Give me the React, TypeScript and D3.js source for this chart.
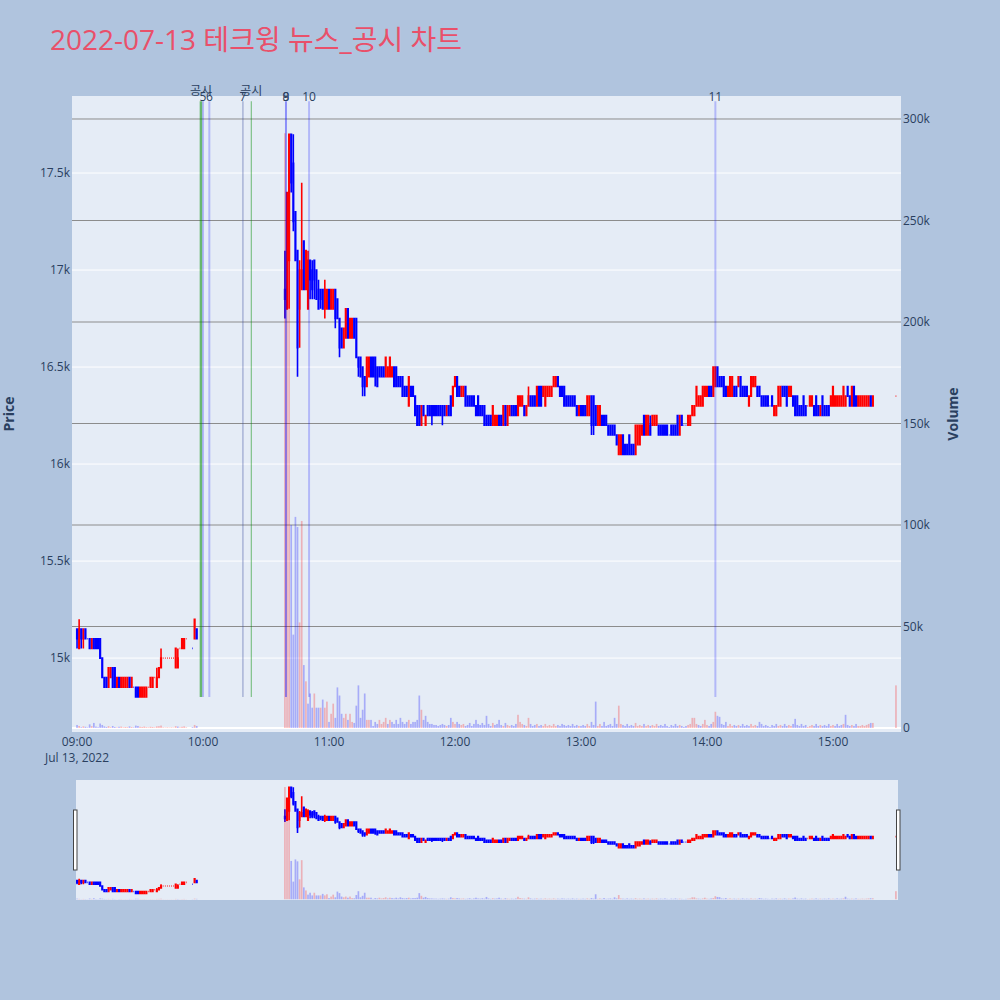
import React from 'react';
import * as d3 from 'd3';

const chartTitle = '2022-07-13 테크윙 뉴스_공시 차트';
const dateLabel = 'Jul 13, 2022';

// [time, open, close, volume, high?, low?]  (high/low default to body extent)
type Row = [string, number, number, number, number?, number?];

const morningCandles: Row[] = [
  ['09:00', 15150, 15100, 1500, 15150, 15050], ['09:01', 15050, 15150, 1000, 15200], ['09:02', 15150, 15100, 400, 15150, 15050],
  ['09:03', 15100, 15150, 800, 15150, 15050], ['09:04', 15150, 15100, 600], ['09:05', 15100, 15100, 300],
  ['09:06', 15100, 15050, 1800], ['09:07', 15050, 15100, 900], ['09:08', 15100, 15050, 2500],
  ['09:09', 15100, 15050, 700], ['09:10', 15100, 15050, 400], ['09:11', 15100, 15000, 2200],
  ['09:12', 15000, 14900, 1500], ['09:13', 14900, 14850, 800], ['09:14', 14900, 14850, 500],
  ['09:15', 14850, 14950, 900], ['09:16', 14900, 14950, 400], ['09:17', 14950, 14850, 1000],
  ['09:18', 14950, 14850, 500], ['09:19', 14850, 14900, 300], ['09:20', 14900, 14850, 600],
  ['09:21', 14850, 14900, 700], ['09:22', 14850, 14900, 300], ['09:23', 14850, 14900, 500],
  ['09:24', 14850, 14900, 400], ['09:25', 14900, 14850, 800], ['09:26', 14850, 14900, 500],
  ['09:27', 14850, 14850, 300], ['09:28', 14850, 14800, 1200], ['09:29', 14850, 14800, 1000],
  ['09:30', 14800, 14850, 600], ['09:31', 14800, 14850, 500], ['09:32', 14800, 14850, 700],
  ['09:33', 14800, 14850, 400], ['09:34', 14850, 14850, 300], ['09:35', 14850, 14900, 600],
  ['09:36', 14850, 14900, 500], ['09:37', 14900, 14900, 300], ['09:38', 14850, 14900, 800, 14950],
  ['09:39', 14900, 14950, 900], ['09:40', 14950, 15000, 1200, 15050], ['09:41', 15000, 15000, 300],
  ['09:42', 15000, 15000, 200], ['09:43', 15000, 15000, 300], ['09:44', 15000, 15000, 200],
  ['09:45', 15000, 15000, 300], ['09:46', 15000, 15000, 200], ['09:47', 14950, 15050, 900],
  ['09:48', 14950, 15000, 700, 15050], ['09:49', 15050, 15050, 300], ['09:50', 15050, 15100, 600],
  ['09:51', 15050, 15100, 800], ['09:52', 15100, 15100, 300], ['09:55', 15050, 15050, 400],
  ['09:56', 15100, 15200, 1500], ['09:57', 15150, 15100, 1000],
];

const mainCandles: Row[] = [
  ['10:39', 16900, 16850, 293000, 17100, 16750], ['10:40', 16800, 17400, 240000], ['10:41', 17050, 17700, 290000, 17700, 16800],
  ['10:42', 17700, 17450, 100000, 17700, 17400], ['10:43', 17550, 17250, 46000, 17700, 17200], ['10:44', 17300, 17050, 104000],
  ['10:45', 17100, 16600, 99000, 17100, 16450], ['10:46', 16800, 17000, 52000, 17050, 16600], ['10:47', 16900, 17000, 102000, 17450],
  ['10:48', 17150, 16900, 31000], ['10:49', 16900, 17100, 23000], ['10:50', 16800, 17050, 12000, 17100],
  ['10:51', 17050, 16950, 17000, 17050, 16850], ['10:52', 17000, 16900, 10000, 17050, 16850], ['10:53', 17050, 16950, 17000, 17050, 16850],
  ['10:54', 17000, 16850, 10000], ['10:55', 16900, 16800, 10000, 16950], ['10:56', 16900, 16850, 10000, 16900, 16800],
  ['10:57', 16900, 16800, 14000], ['10:58', 16800, 16900, 10000, 16950, 16750], ['10:59', 16800, 16900, 13000],
  ['11:00', 16900, 16800, 3000], ['11:01', 16800, 16900, 7000], ['11:02', 16800, 16900, 12000],
  ['11:03', 16900, 16750, 5000, 16900, 16700], ['11:04', 16850, 16750, 20000], ['11:05', 16750, 16600, 16000, 16750, 16550],
  ['11:06', 16700, 16600, 7000], ['11:07', 16600, 16700, 5000], ['11:08', 16650, 16800, 7000],
  ['11:09', 16800, 16650, 4000], ['11:10', 16650, 16750, 7000], ['11:11', 16650, 16750, 3000],
  ['11:12', 16750, 16650, 2500], ['11:13', 16750, 16550, 11000], ['11:14', 16550, 16500, 21000, 16550, 16450],
  ['11:15', 16550, 16450, 5000], ['11:16', 16500, 16400, 9000, 16500, 16350], ['11:17', 16450, 16400, 17000, 16450, 16350],
  ['11:18', 16400, 16550, 4000], ['11:19', 16450, 16550, 4000], ['11:20', 16550, 16450, 4000],
  ['11:21', 16550, 16450, 1000], ['11:22', 16550, 16450, 3000, 16550, 16400], ['11:23', 16500, 16400, 2000],
  ['11:24', 16500, 16450, 4000], ['11:25', 16500, 16450, 2000], ['11:26', 16500, 16450, 3000],
  ['11:27', 16450, 16550, 5000], ['11:28', 16450, 16500, 2000], ['11:29', 16450, 16550, 4000],
  ['11:30', 16450, 16500, 3000], ['11:31', 16500, 16400, 2000], ['11:32', 16500, 16400, 4000],
  ['11:33', 16450, 16400, 2000], ['11:34', 16450, 16400, 5000], ['11:35', 16450, 16350, 3000],
  ['11:36', 16400, 16350, 2000], ['11:37', 16400, 16350, 3000], ['11:38', 16300, 16450, 4000],
  ['11:39', 16400, 16350, 2000], ['11:40', 16400, 16350, 3000], ['11:41', 16350, 16250, 3000],
  ['11:42', 16300, 16200, 4000], ['11:43', 16300, 16200, 16000], ['11:44', 16200, 16300, 9000],
  ['11:45', 16300, 16250, 4000], ['11:46', 16200, 16250, 6000], ['11:47', 16300, 16250, 3000],
  ['11:48', 16300, 16250, 2000], ['11:49', 16300, 16250, 2000, 16300, 16200], ['11:50', 16300, 16250, 1500],
  ['11:51', 16300, 16250, 1500], ['11:52', 16300, 16250, 1000], ['11:53', 16300, 16250, 1500],
  ['11:54', 16300, 16250, 2000, 16300, 16200], ['11:55', 16300, 16250, 1500], ['11:56', 16250, 16300, 1000],
  ['11:57', 16300, 16250, 1500], ['11:58', 16350, 16250, 5000], ['11:59', 16300, 16400, 3000],
  ['12:00', 16400, 16450, 2000], ['12:01', 16450, 16350, 3000], ['12:02', 16400, 16350, 2000],
  ['12:03', 16350, 16400, 1500], ['12:04', 16350, 16400, 2000], ['12:05', 16400, 16300, 1000],
  ['12:06', 16350, 16300, 1500], ['12:07', 16350, 16300, 2500], ['12:08', 16350, 16300, 1000],
  ['12:09', 16350, 16300, 2000], ['12:10', 16300, 16250, 4000], ['12:11', 16350, 16250, 2000],
  ['12:12', 16300, 16250, 1500], ['12:13', 16300, 16250, 2500], ['12:14', 16300, 16200, 1500],
  ['12:15', 16250, 16200, 6000], ['12:16', 16250, 16200, 2000], ['12:17', 16250, 16200, 1000],
  ['12:18', 16200, 16300, 2500], ['12:19', 16200, 16250, 1500], ['12:20', 16200, 16250, 2000],
  ['12:21', 16250, 16200, 4000], ['12:22', 16250, 16200, 1500], ['12:23', 16200, 16300, 1000],
  ['12:24', 16300, 16200, 2500], ['12:25', 16200, 16300, 1500], ['12:26', 16250, 16300, 1000],
  ['12:27', 16300, 16250, 1500], ['12:28', 16300, 16250, 1000], ['12:29', 16300, 16250, 2000],
  ['12:30', 16250, 16350, 6500], ['12:31', 16300, 16350, 3000], ['12:32', 16300, 16350, 2000],
  ['12:33', 16300, 16250, 1500], ['12:34', 16250, 16300, 1000], ['12:35', 16300, 16350, 5000, 16400],
  ['12:36', 16350, 16300, 2000], ['12:37', 16350, 16300, 1000], ['12:38', 16350, 16300, 1500],
  ['12:39', 16300, 16400, 2000], ['12:40', 16400, 16300, 1000], ['12:41', 16400, 16300, 1500],
  ['12:42', 16350, 16400, 1000], ['12:43', 16300, 16400, 2000], ['12:44', 16350, 16400, 1000],
  ['12:45', 16350, 16400, 1500], ['12:46', 16350, 16400, 1000], ['12:47', 16400, 16450, 2000],
  ['12:48', 16400, 16450, 1000], ['12:49', 16450, 16400, 1500], ['12:50', 16400, 16350, 1000],
  ['12:51', 16400, 16350, 2000], ['12:52', 16400, 16300, 1500], ['12:53', 16350, 16300, 1000],
  ['12:54', 16350, 16300, 1500], ['12:55', 16350, 16300, 1000], ['12:56', 16350, 16300, 2000],
  ['12:57', 16350, 16300, 1000], ['12:58', 16300, 16250, 1500], ['12:59', 16250, 16300, 1000],
  ['13:00', 16300, 16250, 1000], ['13:01', 16300, 16250, 1500], ['13:02', 16300, 16250, 1000],
  ['13:03', 16250, 16350, 2000], ['13:04', 16250, 16350, 1000], ['13:05', 16350, 16200, 3000, 16350, 16150],
  ['13:06', 16350, 16200, 1500, 16350, 16150], ['13:07', 16300, 16200, 13000], ['13:08', 16200, 16300, 1000],
  ['13:09', 16200, 16300, 2000], ['13:10', 16250, 16200, 1000], ['13:11', 16250, 16200, 3000],
  ['13:12', 16250, 16200, 1000], ['13:13', 16200, 16150, 1500], ['13:14', 16200, 16150, 2000],
  ['13:15', 16200, 16150, 1000], ['13:16', 16200, 16150, 5000], ['13:17', 16150, 16100, 2000],
  ['13:18', 16050, 16150, 11000], ['13:19', 16050, 16150, 2000], ['13:20', 16150, 16050, 1500],
  ['13:21', 16100, 16050, 1000], ['13:22', 16100, 16050, 2000], ['13:23', 16150, 16050, 1000],
  ['13:24', 16100, 16050, 1500], ['13:25', 16100, 16050, 1000], ['13:26', 16050, 16200, 2500],
  ['13:27', 16100, 16200, 1000], ['13:28', 16100, 16200, 1500], ['13:29', 16150, 16200, 1000],
  ['13:30', 16250, 16150, 2000], ['13:31', 16150, 16250, 1000], ['13:32', 16150, 16250, 1500],
  ['13:33', 16200, 16150, 1000, 16250], ['13:34', 16200, 16250, 1500], ['13:35', 16200, 16250, 1000],
  ['13:36', 16200, 16250, 2000], ['13:37', 16200, 16150, 1000], ['13:38', 16200, 16150, 1500],
  ['13:39', 16200, 16150, 1000], ['13:40', 16200, 16150, 2000], ['13:41', 16200, 16150, 1000],
  ['13:42', 16150, 16150, 500], ['13:43', 16200, 16150, 1500], ['13:44', 16200, 16150, 1000],
  ['13:45', 16200, 16150, 2000], ['13:46', 16250, 16150, 1000], ['13:47', 16150, 16250, 1500],
  ['13:48', 16250, 16200, 1000], ['13:49', 16200, 16200, 500], ['13:50', 16200, 16200, 1000],
  ['13:51', 16200, 16250, 1500], ['13:52', 16200, 16250, 2000], ['13:53', 16250, 16300, 5000],
  ['13:54', 16250, 16300, 5000], ['13:55', 16300, 16400, 2000], ['13:56', 16300, 16350, 1500],
  ['13:57', 16300, 16350, 1000], ['13:58', 16300, 16400, 2000], ['13:59', 16350, 16400, 4000],
  ['14:00', 16350, 16400, 1500], ['14:01', 16400, 16350, 1000], ['14:02', 16400, 16350, 2000],
  ['14:03', 16350, 16500, 3000], ['14:04', 16400, 16500, 8000], ['14:05', 16500, 16400, 6000],
  ['14:06', 16450, 16400, 5500], ['14:07', 16450, 16400, 2000], ['14:08', 16450, 16350, 1500],
  ['14:09', 16400, 16350, 3000], ['14:10', 16350, 16400, 1000], ['14:11', 16350, 16450, 2000],
  ['14:12', 16350, 16450, 1000], ['14:13', 16400, 16350, 1500], ['14:14', 16400, 16350, 1000],
  ['14:15', 16400, 16450, 1500], ['14:16', 16450, 16350, 1000], ['14:17', 16400, 16350, 2000],
  ['14:18', 16400, 16350, 1000], ['14:19', 16400, 16350, 1500], ['14:20', 16300, 16350, 1000],
  ['14:21', 16350, 16450, 2000], ['14:22', 16400, 16450, 1000], ['14:23', 16400, 16450, 1500],
  ['14:24', 16400, 16350, 1000], ['14:25', 16400, 16350, 3000], ['14:26', 16350, 16300, 2000],
  ['14:27', 16350, 16300, 1000], ['14:28', 16350, 16300, 1500], ['14:29', 16350, 16300, 1000],
  ['14:30', 16300, 16300, 500], ['14:31', 16350, 16300, 1500], ['14:32', 16250, 16300, 1000],
  ['14:33', 16250, 16300, 2000], ['14:34', 16300, 16400, 1000], ['14:35', 16300, 16400, 1500],
  ['14:36', 16400, 16350, 1000], ['14:37', 16400, 16350, 2000], ['14:38', 16400, 16300, 1000],
  ['14:39', 16350, 16400, 1500], ['14:40', 16350, 16400, 1000], ['14:41', 16350, 16300, 2000],
  ['14:42', 16350, 16250, 4500], ['14:43', 16350, 16250, 1500], ['14:44', 16300, 16250, 1000],
  ['14:45', 16300, 16250, 2000], ['14:46', 16350, 16250, 1000], ['14:47', 16300, 16250, 1500],
  ['14:48', 16300, 16300, 500], ['14:49', 16300, 16350, 1000], ['14:50', 16300, 16350, 1500],
  ['14:51', 16300, 16250, 1000], ['14:52', 16350, 16250, 2000], ['14:53', 16300, 16250, 1000],
  ['14:54', 16250, 16300, 1500], ['14:55', 16350, 16250, 1000], ['14:56', 16300, 16250, 1500],
  ['14:57', 16300, 16250, 1000], ['14:58', 16300, 16250, 2000], ['14:59', 16300, 16350, 1000],
  ['15:00', 16300, 16400, 1500], ['15:01', 16300, 16350, 1000], ['15:02', 16300, 16350, 2000],
  ['15:03', 16300, 16350, 1000], ['15:04', 16300, 16350, 1500], ['15:05', 16300, 16400, 2000],
  ['15:06', 16300, 16350, 6500], ['15:07', 16400, 16350, 1500], ['15:08', 16350, 16300, 1000],
  ['15:09', 16300, 16400, 1500], ['15:10', 16400, 16300, 1000], ['15:11', 16350, 16300, 2000],
  ['15:12', 16300, 16350, 1000], ['15:13', 16300, 16350, 1000], ['15:14', 16300, 16350, 1500],
  ['15:15', 16300, 16350, 1000], ['15:16', 16300, 16350, 1500], ['15:17', 16300, 16350, 2000],
  ['15:18', 16350, 16300, 2500], ['15:19', 16300, 16350, 2500], ['15:30', 16350, 16350, 21000],
];

// event markers: label, time, kind
const eventLabels = ['공시', '5', '6', '7', '공시', '8', '9', '10', '11'];
const eventTimes = ['09:59', '10:00', '10:03', '10:19', '10:23', '10:39:30', '10:39:30', '10:50:30', '14:04'];
const eventKinds = ['disclosure', 'news', 'news', 'news', 'disclosure', 'news', 'news', 'news', 'news'];

const priceTicks = [15000, 15500, 16000, 16500, 17000, 17500];
const volumeTicks = [0, 50000, 100000, 150000, 200000, 250000, 300000];
const hourTicks = ['09:00', '10:00', '11:00', '12:00', '13:00', '14:00', '15:00'];

const FONT = "'Open Sans', 'Noto Sans CJK KR', Verdana, Arial, sans-serif";
const INK = '#2a3f5f';
const UP = '#ff0000';
const DOWN = '#0000ff';

const parseT = (s: string) => {
  const [h, m, sec] = s.split(':').map(Number);
  return new Date(2022, 6, 13, h, m, sec || 0);
};

export default function App() {
  const plot = { l: 72, r: 901, t: 96, b: 732 };
  const slider = { l: 76, r: 898, t: 780, b: 900 };

  const x = d3.scaleTime().domain([parseT('08:57:36'), parseT('15:32:24')]).range([plot.l, plot.r]);
  const yP = d3.scaleLinear().domain([14619, 17897]).range([plot.b, plot.t]);
  const yV = d3.scaleLinear().domain([-1970, 311330]).range([plot.b, plot.t]);

  const sx = d3.scaleTime().domain([parseT('08:59:30'), parseT('15:31:00')]).range([slider.l, slider.r]);
  const syP = d3.scaleLinear().domain([14619, 17897]).range([slider.b, slider.t]);
  const syV = d3.scaleLinear().domain([-1970, 311330]).range([slider.b, slider.t]);

  const rows = [...morningCandles, ...mainCandles];
  let prevClose = rows[0][1];
  let prevUp = true;
  let prevVolUp = true;
  const candles = rows.map((r, i) => {
    const [t, o, c, v, h, l] = r;
    let up: boolean;
    if (c > o) up = true;
    else if (c < o) up = false;
    else up = c > prevClose ? true : c < prevClose ? false : prevUp;
    let vUp: boolean;
    if (i === 0) vUp = c >= o;
    else vUp = c > prevClose ? true : c < prevClose ? false : prevVolUp;
    prevClose = c;
    prevUp = up;
    prevVolUp = vUp;
    return {
      date: parseT(t), o, c, v,
      h: h ?? Math.max(o, c), l: l ?? Math.min(o, c), up, vUp,
    };
  });

  const fmtK = d3.format('~s');
  const fmtHM = d3.timeFormat('%H:%M');

  const candlePath = (d: any, xs: any, ys: any, bw: number) => {
    const cx = xs(d.date);
    const yo = ys(d.o), yc = ys(d.c), yh = ys(d.h), yl = ys(d.l);
    const top = Math.min(yo, yc), bot = Math.max(yo, yc);
    return `M${cx - bw / 2},${top}H${cx + bw / 2}V${bot}H${cx - bw / 2}Z` +
      `M${cx},${yh}V${top}M${cx},${bot}V${yl}`;
  };

  const renderCandles = (xs: any, ys: any, bw: number, sw: number, key: string) => (
    <g key={key}>
      {[true, false].map((dir) => (
        <g key={String(dir)}>
          {candles.filter((d) => d.up === dir).map((d, i) => (
            <path key={i} d={candlePath(d, xs, ys, bw)}
              fill={dir ? UP : DOWN} stroke={dir ? UP : DOWN} strokeWidth={sw} />
          ))}
        </g>
      ))}
    </g>
  );

  const renderVolume = (xs: any, ys: any, bwBar: number, key: string) => (
    <g key={key}>
      {candles.map((d, i) => (
        <rect key={i} x={xs(d.date) - bwBar / 2} width={bwBar}
          y={ys(d.v)} height={Math.max(0, ys(0) - ys(d.v))}
          fill={d.vUp ? 'rgba(255,0,0,0.25)' : 'rgba(0,0,255,0.27)'} />
      ))}
    </g>
  );

  const events = eventLabels.map((label, i) => ({
    label, date: parseT(eventTimes[i]), kind: eventKinds[i],
  }));

  const lineStyle = (e: any, i: number) => {
    if (e.kind === 'disclosure') {
      return i === 0
        ? { stroke: 'rgba(0,140,0,0.55)', width: 2.5 }
        : { stroke: 'rgba(0,140,0,0.45)', width: 1.2 };
    }
    if (e.label === '7') return { stroke: 'rgba(60,80,160,0.45)', width: 1.2 };
    return { stroke: 'rgba(0,0,255,0.22)', width: 2 };
  };

  return (
    <svg width={1000} height={1000} style={{ position: 'absolute', left: 0, top: 0, fontFamily: FONT }}>
      <rect x={0} y={0} width={1000} height={1000} fill="#b0c4de" />
      <text x={50} y={50} fontSize={28} fill="#e9506a" fontFamily={FONT}>{chartTitle}</text>

      {/* main plot */}
      <rect x={plot.l} y={plot.t} width={plot.r - plot.l} height={plot.b - plot.t} fill="#e5ecf6" />
      <defs>
        <clipPath id="mainClip">
          <rect x={plot.l} y={plot.t} width={plot.r - plot.l} height={plot.b - plot.t} />
        </clipPath>
        <clipPath id="sliderClip">
          <rect x={slider.l} y={slider.t} width={slider.r - slider.l} height={slider.b - slider.t} />
        </clipPath>
      </defs>
      {priceTicks.map((p) => (
        <line key={p} x1={plot.l} x2={plot.r} y1={yP(p)} y2={yP(p)} stroke="#ffffff" strokeWidth={1} />
      ))}
      {volumeTicks.filter((v) => v > 0).map((v) => (
        <line key={v} x1={plot.l} x2={plot.r} y1={yV(v)} y2={yV(v)} stroke="#8c8c8c" strokeWidth={1} />
      ))}
      <line x1={plot.l} x2={plot.r} y1={yV(0)} y2={yV(0)} stroke="#ffffff" strokeWidth={2} />

      <g clipPath="url(#mainClip)">
        {renderCandles(x, yP, 0.6, 1.6, 'mc')}
        {renderVolume(x, yV, 1.68, 'mv')}
      </g>

      {/* event lines */}
      {events.map((e, i) => {
        const s = lineStyle(e, i);
        return (
          <line key={i} x1={x(e.date)} x2={x(e.date)} y1={yP(14800)} y2={yP(17870)}
            stroke={s.stroke} strokeWidth={s.width} />
        );
      })}
      {events.map((e, i) => (
        <text key={i} x={x(e.date)} y={e.kind === 'disclosure' ? 95 : 101} fontSize={12}
          textAnchor="middle" fill={INK}>{e.label}</text>
      ))}

      {/* axes labels */}
      {priceTicks.map((p) => (
        <text key={p} x={70} y={yP(p)} dy="0.35em" fontSize={12} textAnchor="end" fill={INK}>{fmtK(p)}</text>
      ))}
      {volumeTicks.map((v) => (
        <text key={v} x={903} y={yV(v)} dy="0.35em" fontSize={12} textAnchor="start" fill={INK}>{fmtK(v)}</text>
      ))}
      {hourTicks.map((t) => (
        <text key={t} x={x(parseT(t))} y={746} fontSize={12} textAnchor="middle" fill={INK}>{fmtHM(parseT(t))}</text>
      ))}
      <text x={x(parseT('09:00'))} y={762} fontSize={12} textAnchor="middle" fill={INK}>{dateLabel}</text>

      <text transform={`translate(14,${(plot.t + plot.b) / 2}) rotate(-90)`} fontSize={14} fontWeight="bold"
        textAnchor="middle" fill={INK}>Price</text>
      <text transform={`translate(958,${(plot.t + plot.b) / 2}) rotate(-90)`} fontSize={14} fontWeight="bold"
        textAnchor="middle" fill={INK}>Volume</text>

      {/* range slider */}
      <rect x={slider.l} y={slider.t} width={slider.r - slider.l} height={slider.b - slider.t} fill="#e5ecf6" />
      <g clipPath="url(#sliderClip)">
        {renderCandles(sx, syP, 0.6, 1.6, 'sc')}
        {renderVolume(sx, syV, 1.68, 'sv')}
      </g>
      <rect x={73.5} y={810} width={3.5} height={60} fill="#ffffff" stroke="#444" strokeWidth={1} />
      <rect x={896.5} y={810} width={3.5} height={60} fill="#ffffff" stroke="#444" strokeWidth={1} />
    </svg>
  );
}
